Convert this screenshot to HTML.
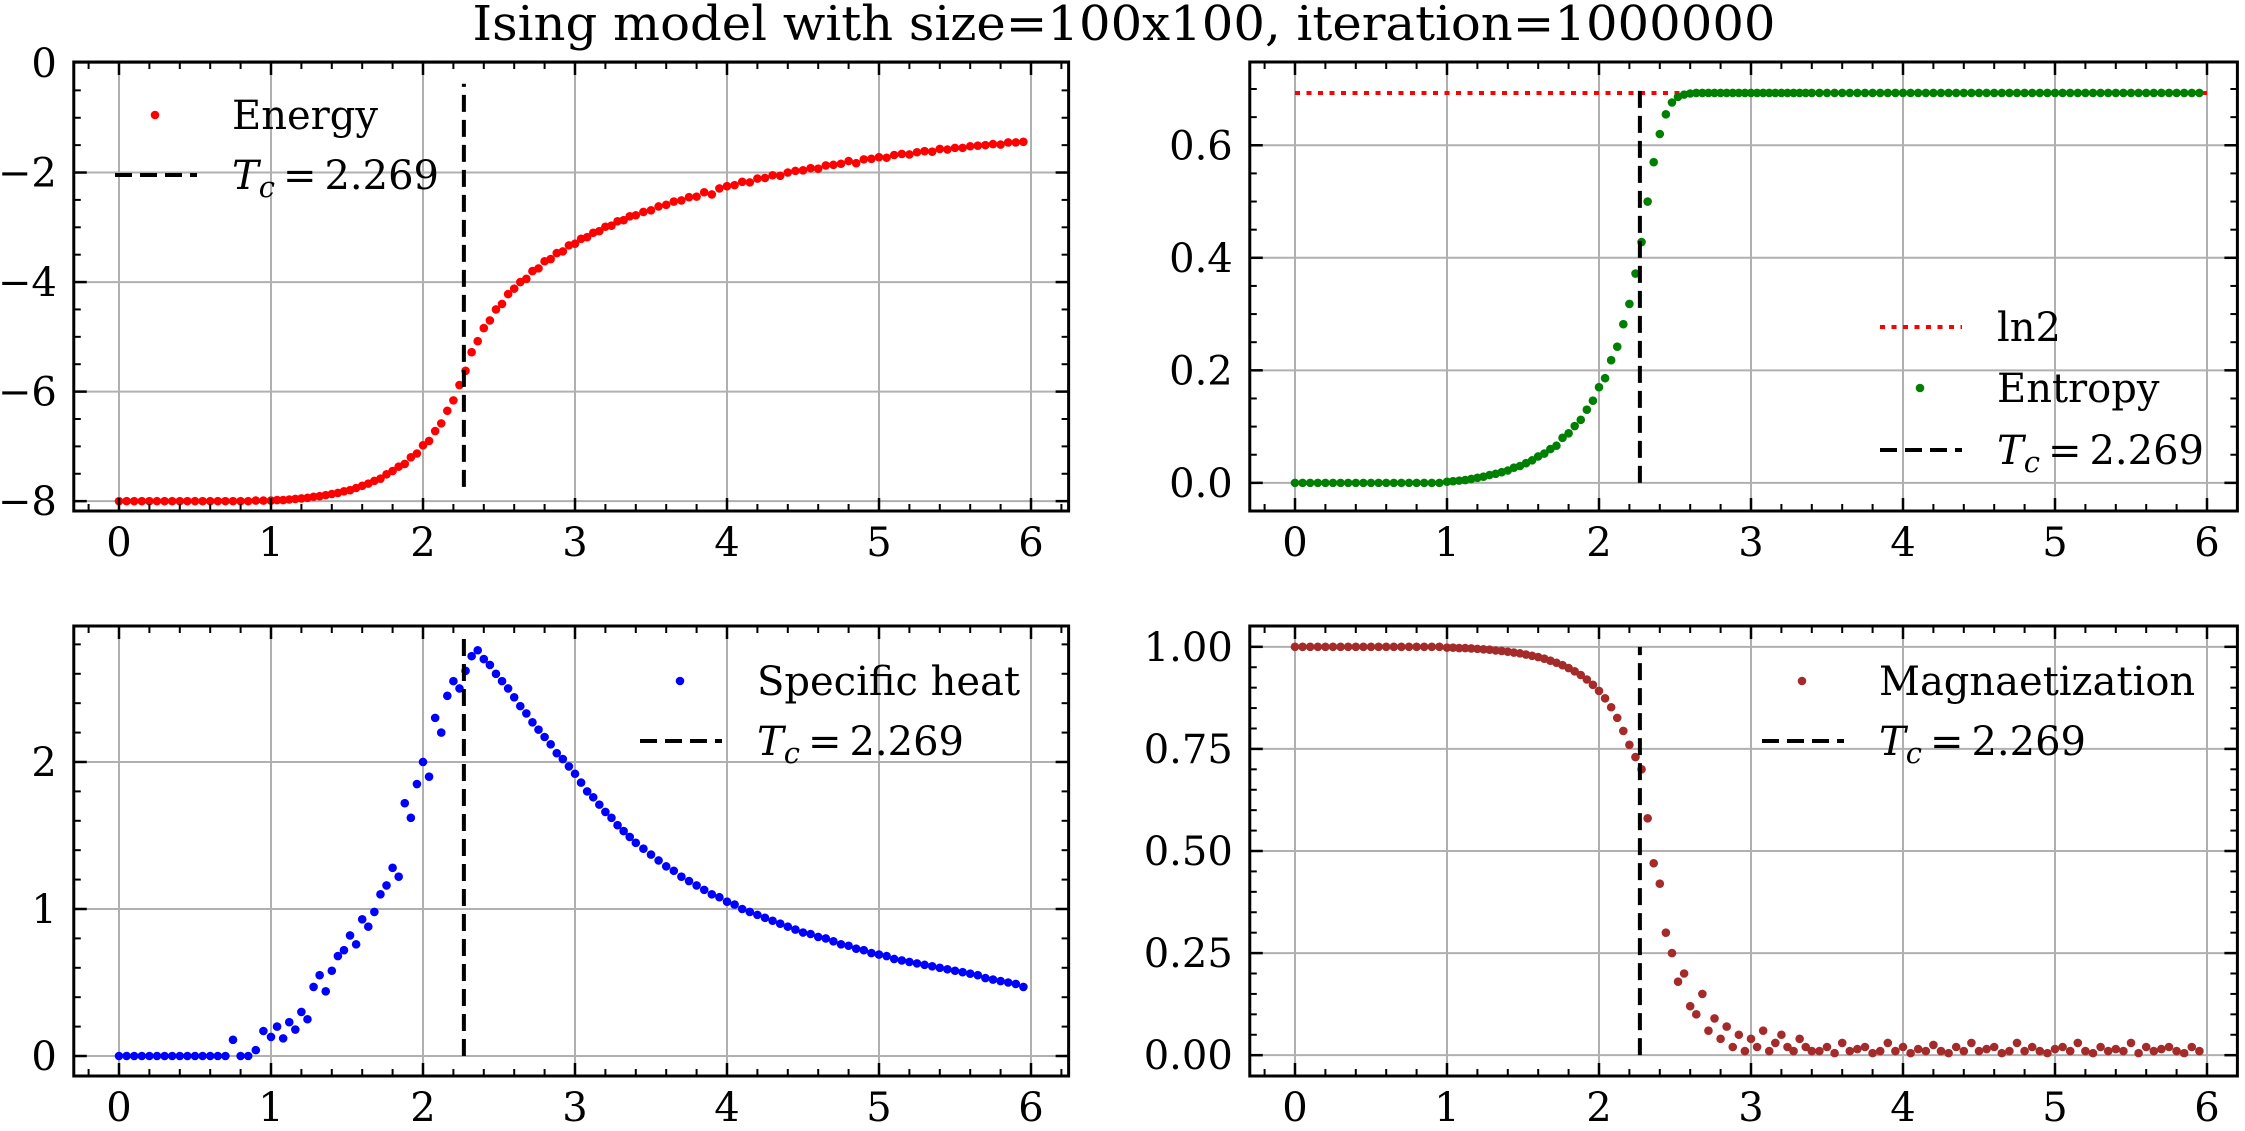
<!DOCTYPE html>
<html><head><meta charset="utf-8"><title>Ising model</title>
<style>
html,body{margin:0;padding:0;background:#fff;}
svg{display:block;font-family:"DejaVu Serif","Liberation Serif",serif;}
</style></head>
<body>
<svg id="fig" width="2245" height="1131" viewBox="0 0 2245 1131" xmlns="http://www.w3.org/2000/svg">
<rect width="2245" height="1131" fill="#fff"/>
<text x="1124" y="40" font-size="48" text-anchor="middle" textLength="1303" lengthAdjust="spacingAndGlyphs">Ising model with size=100x100, iteration=1000000</text>
</svg>
<script>
const temps = [
0,0.05,0.1,0.15,0.2,0.25,0.3,0.35,0.4,0.45,
0.5,0.55,0.6,0.65,0.7,0.75,0.8,0.85,0.9,0.95,
1.00,1.04,1.08,1.12,1.16,1.20,1.24,1.28,1.32,1.36,
1.40,1.44,1.48,1.52,1.56,1.60,1.64,1.68,1.72,1.76,
1.80,1.84,1.88,1.92,1.96,2.00,2.04,2.08,2.12,2.16,
2.20,2.24,2.28,2.32,2.36,2.40,2.44,2.48,2.52,2.56,
2.60,2.64,2.68,2.72,2.76,2.80,2.84,2.88,2.92,2.96,
3.00,3.04,3.08,3.12,3.16,3.20,3.24,3.28,3.32,3.36,
3.40,
3.45,3.50,3.55,3.60,3.65,3.70,3.75,3.80,3.85,3.90,
3.95,4.00,4.05,4.10,4.15,4.20,4.25,4.30,4.35,4.40,
4.45,4.50,4.55,4.60,4.65,4.70,4.75,4.80,4.85,4.90,
4.95,5.00,5.05,5.10,5.15,5.20,5.25,5.30,5.35,5.40,
5.45,5.50,5.55,5.60,5.65,5.70,5.75,5.80,5.85,5.90,
5.95];
const energy = [
-8,-8,-8,-8,-8,-8,-8,-8,-8,-8,
-8,-8,-8,-8,-8,-8,-8,-8,-7.99,-7.99,
-7.99,-7.98,-7.98,-7.97,-7.96,-7.95,-7.94,-7.92,-7.91,-7.89,
-7.87,-7.85,-7.82,-7.80,-7.76,-7.72,-7.68,-7.63,-7.59,-7.51,
-7.45,-7.37,-7.32,-7.20,-7.13,-6.98,-6.90,-6.72,-6.58,-6.35,
-6.16,-5.88,-5.62,-5.28,-5.08,-4.84,-4.70,-4.50,-4.40,-4.22,
-4.12,-4.00,-3.94,-3.80,-3.75,-3.62,-3.58,-3.47,-3.44,-3.33,
-3.30,-3.21,-3.18,-3.10,-3.07,-2.99,-2.97,-2.89,-2.87,-2.80,
-2.78,
-2.72,-2.69,-2.62,-2.59,-2.53,-2.51,-2.45,-2.44,-2.36,-2.40,
-2.29,-2.25,-2.23,-2.17,-2.18,-2.11,-2.10,-2.05,-2.06,-2.00,
-1.97,-1.96,-1.92,-1.93,-1.87,-1.86,-1.84,-1.79,-1.83,-1.76,
-1.75,-1.72,-1.73,-1.68,-1.66,-1.67,-1.63,-1.61,-1.62,-1.57,
-1.58,-1.55,-1.55,-1.52,-1.51,-1.50,-1.48,-1.49,-1.45,-1.45,
-1.44];
const entropy = [
0,0,0,0,0,0,0,0,0,0,
0,0,0,0,0,0,0,0,0,0,
0.002,0.003,0.004,0.005,0.007,0.009,0.011,0.014,0.016,0.019,
0.022,0.027,0.030,0.035,0.040,0.047,0.052,0.060,0.066,0.080,
0.088,0.101,0.112,0.130,0.146,0.170,0.186,0.218,0.242,0.282,
0.318,0.372,0.428,0.500,0.570,0.620,0.655,0.676,0.686,0.690,
0.692,0.693,0.693,0.693,0.693,0.693,0.693,0.693,0.693,0.693,
0.693,0.693,0.693,0.693,0.693,0.693,0.693,0.693,0.693,0.693,
0.693,
0.693,0.693,0.693,0.693,0.693,0.693,0.693,0.693,0.693,0.693,
0.693,0.693,0.693,0.693,0.693,0.693,0.693,0.693,0.693,0.693,
0.693,0.693,0.693,0.693,0.693,0.693,0.693,0.693,0.693,0.693,
0.693,0.693,0.693,0.693,0.693,0.693,0.693,0.693,0.693,0.693,
0.693,0.693,0.693,0.693,0.693,0.693,0.693,0.693,0.693,0.693,
0.693];
const heat = [
0,0,0,0,0,0,0,0,0,0,
0,0,0,0,0,0.11,0,0,0.04,0.17,
0.13,0.20,0.12,0.23,0.18,0.30,0.25,0.47,0.55,0.44,
0.58,0.68,0.72,0.82,0.76,0.93,0.88,0.98,1.10,1.16,
1.28,1.22,1.72,1.62,1.85,2.00,1.90,2.30,2.20,2.45,
2.55,2.50,2.62,2.72,2.76,2.70,2.66,2.60,2.55,2.50,
2.44,2.38,2.33,2.27,2.22,2.17,2.12,2.06,2.02,1.97,
1.92,1.86,1.80,1.76,1.71,1.66,1.62,1.57,1.53,1.49,
1.45,
1.41,1.37,1.33,1.29,1.26,1.22,1.19,1.16,1.13,1.10,
1.08,1.05,1.03,1.00,0.98,0.96,0.94,0.92,0.90,0.88,
0.86,0.84,0.83,0.81,0.80,0.78,0.76,0.75,0.73,0.72,
0.70,0.69,0.68,0.66,0.65,0.64,0.63,0.62,0.61,0.60,
0.59,0.58,0.57,0.56,0.55,0.53,0.52,0.51,0.50,0.49,
0.47];
const magnet = [
1,1,1,1,1,1,1,1,1,1,
1,1,1,1,1,1,1,1,1,1,
0.998,0.998,0.997,0.997,0.996,0.995,0.994,0.993,0.991,0.990,
0.988,0.986,0.984,0.981,0.978,0.975,0.971,0.966,0.961,0.955,
0.948,0.940,0.931,0.920,0.907,0.892,0.874,0.852,0.826,0.794,
0.760,0.730,0.700,0.580,0.470,0.420,0.300,0.250,0.180,0.200,
0.120,0.100,0.150,0.060,0.090,0.040,0.070,0.020,0.050,0.010,
0.040,0.020,0.060,0.010,0.030,0.050,0.020,0.010,0.040,0.020,
0.010,
0.01,0.02,0.005,0.03,0.01,0.015,0.02,0.005,0.01,0.03,
0.01,0.02,0.005,0.015,0.01,0.025,0.01,0.005,0.02,0.01,
0.03,0.01,0.015,0.02,0.005,0.01,0.03,0.01,0.02,0.01,
0.005,0.015,0.02,0.01,0.03,0.01,0.005,0.02,0.01,0.015,
0.01,0.03,0.005,0.02,0.01,0.015,0.02,0.01,0.005,0.02,
0.01];
const xTicks = [0,1,2,3,4,5,6];
const tcValue = 2.269;
const ln2Value = 0.693;
const energyTicks = [-8,-6,-4,-2,0];
const entropyTicks = [0,0.2,0.4,0.6];
const heatTicks = [0,1,2];
const magnetTicks = [0,0.25,0.5,0.75,1];

const NS = 'http://www.w3.org/2000/svg';
const svg = document.getElementById('fig');
function mk(tag, attrs, parent) {
  const e = document.createElementNS(NS, tag);
  for (const k in attrs) e.setAttribute(k, attrs[k]);
  (parent || svg).appendChild(e);
  return e;
}

function panel(cfg) {
  const g = mk('g', {});
  
  
  const X = v => cfg.x0 + v * cfg.xu;
  const Y = v => cfg.yb - (v - cfg.ymin) / (cfg.ymax - cfg.ymin) * (cfg.yb - cfg.yt);
  const L = cfg.x0 + cfg.xmin * cfg.xu, R = cfg.x0 + cfg.xmax * cfg.xu;
  const T = cfg.yt, B = cfg.yb;
  xTicks.forEach(t => {
    const l = mk('line', {x1: X(t), x2: X(t), y1: T, y2: B, stroke: '#b0b0b0', 'stroke-width': 2}, g);
    
    
  });
  cfg.yticks.forEach(t => {
    const l = mk('line', {x1: L, x2: R, y1: Y(t), y2: Y(t), stroke: '#b0b0b0', 'stroke-width': 2}, g);
    
    
  });
  if (cfg.hline !== undefined) {
    const h = mk('line', {x1: X(0), x2: X(6), y1: Y(cfg.hline), y2: Y(cfg.hline), stroke: '#ff0000', 'stroke-width': 4, 'stroke-dasharray': '5 6.5'}, g);
    
    
  }
  const sg = mk('g', {fill: cfg.color}, g);
  
  
  temps.forEach((t, i) => {
    const c = mk('circle', {cx: X(t).toFixed(2), cy: Y(cfg.data[i]).toFixed(2), r: 4.3}, sg);
    
    
  });
  const v = mk('line', {x1: X(tcValue), x2: X(tcValue), y1: Y(cfg.vl[0]), y2: Y(cfg.vl[1]), stroke: '#000', 'stroke-width': 4, 'stroke-dasharray': '17 8'}, g);
  
  
  const tk = mk('g', {stroke: '#000'}, g);
  
  
  for (let k = -1; k <= 31; k++) {
    const t = k * 0.2; const px = X(t);
    if (px < L + 1 || px > R - 1) continue;
    const major = k % 5 === 0;
    const len = major ? 13 : 7;
    mk('line', {x1: px, x2: px, y1: B, y2: B - len, 'stroke-width': major ? 2.5 : 2}, tk);
    mk('line', {x1: px, x2: px, y1: T, y2: T + len, 'stroke-width': major ? 2.5 : 2}, tk);
  }
  const n0 = Math.ceil(cfg.ymin / cfg.yminor - 1e-6), n1 = Math.floor(cfg.ymax / cfg.yminor + 1e-6);
  for (let k = n0; k <= n1; k++) {
    const t = k * cfg.yminor; const py = Y(t);
    if (py > B - 1 || py < T + 1) continue;
    const major = cfg.yticks.some(m => Math.abs(m - t) < 1e-6);
    const len = major ? 13 : 7;
    mk('line', {x1: L, x2: L + len, y1: py, y2: py, 'stroke-width': major ? 2.5 : 2}, tk);
    mk('line', {x1: R, x2: R - len, y1: py, y2: py, 'stroke-width': major ? 2.5 : 2}, tk);
  }
  const fr = mk('rect', {x: L, y: T, width: R - L, height: B - T, fill: 'none', stroke: '#000', 'stroke-width': 3}, g);
  
  
  xTicks.forEach(t => {
    const tx = mk('text', {x: X(t), y: B + 45, 'font-size': 40, 'text-anchor': 'middle'}, g);
    tx.textContent = String(t);
    
    
  });
  cfg.yticks.forEach(t => {
    const tx = mk('text', {x: L - 17, y: Y(t) + 14, 'font-size': 40, 'text-anchor': 'end'}, g);
    tx.textContent = cfg.fmt(t);
    
    
  });
  const lg = mk('g', {}, g);
  
  
  cfg.legend.forEach(en => {
    const eg = mk('g', {}, lg);
    
    
    const mx = en.tx - 77;
    if (en.kind === 'dot') mk('circle', {cx: mx, cy: en.y, r: 4.3, fill: cfg.color}, eg);
    else if (en.kind === 'dash') mk('line', {x1: mx - 40, x2: mx + 42, y1: en.y, y2: en.y, stroke: '#000', 'stroke-width': 4, 'stroke-dasharray': '17 8'}, eg);
    else mk('line', {x1: mx - 40, x2: mx + 42, y1: en.y, y2: en.y, stroke: '#ff0000', 'stroke-width': 4, 'stroke-dasharray': '5 6.5'}, eg);
    const tx = mk('text', {x: en.tx, y: en.y + 14, 'font-size': 40}, eg);
    if (en.tc) {
      const a = mk('tspan', {'font-style': 'italic'}, tx); a.textContent = 'T';
      const b = mk('tspan', {'font-style': 'italic', 'font-size': 29, dy: 8}, tx); b.textContent = 'c';
      const c = mk('tspan', {dy: -8, dx: 8}, tx); c.textContent = '=';
      const d = mk('tspan', {dx: 8}, tx); d.textContent = '2.269';
    } else tx.textContent = en.label;
  });
}

const minus = s => s.replace('-', '\u2212');
panel({name: 'energy-panel', seriesName: 'energy-series', color: '#ff0000', data: energy,
  x0: 119, xu: 152, xmin: -0.2975, xmax: 6.2475, yt: 62, yb: 511, ymin: -8.18, ymax: 0.018,
  yticks: energyTicks, yminor: 0.5, fmt: t => minus(String(t)), vl: [-7.74, -0.38],
  legend: [{kind: 'dot', tx: 232, y: 115, label: 'Energy'}, {kind: 'dash', tx: 232, y: 175, tc: true}]});
panel({name: 'entropy-panel', seriesName: 'entropy-series', color: '#008000', data: entropy,
  x0: 1295, xu: 152, xmin: -0.2975, xmax: 6.2, yt: 62, yb: 511, ymin: -0.05, ymax: 0.748,
  yticks: entropyTicks, yminor: 0.05, fmt: t => t.toFixed(1), vl: [0, 0.7], hline: ln2Value,
  legend: [{kind: 'dot-line', tx: 1997, y: 327, label: 'ln2'}, {kind: 'dot', tx: 1997, y: 388, label: 'Entropy'}, {kind: 'dash', tx: 1997, y: 450, tc: true}]});
panel({name: 'specific-heat-panel', seriesName: 'specific-heat-series', color: '#0000ff', data: heat,
  x0: 119, xu: 152, xmin: -0.2975, xmax: 6.2475, yt: 626, yb: 1076, ymin: -0.136, ymax: 2.925,
  yticks: heatTicks, yminor: 0.2, fmt: t => String(t), vl: [0, 2.88],
  legend: [{kind: 'dot', tx: 757, y: 681, label: 'Specific heat'}, {kind: 'dash', tx: 757, y: 741, tc: true}]});
panel({name: 'magnetization-panel', seriesName: 'magnetization-series', color: '#a52a2a', data: magnet,
  x0: 1295, xu: 152, xmin: -0.2975, xmax: 6.2, yt: 626, yb: 1076, ymin: -0.051, ymax: 1.051,
  yticks: magnetTicks, yminor: 0.05, fmt: t => t.toFixed(2), vl: [0, 1],
  legend: [{kind: 'dot', tx: 1879, y: 681, label: 'Magnaetization'}, {kind: 'dash', tx: 1879, y: 741, tc: true}]});
</script>
</body></html>
